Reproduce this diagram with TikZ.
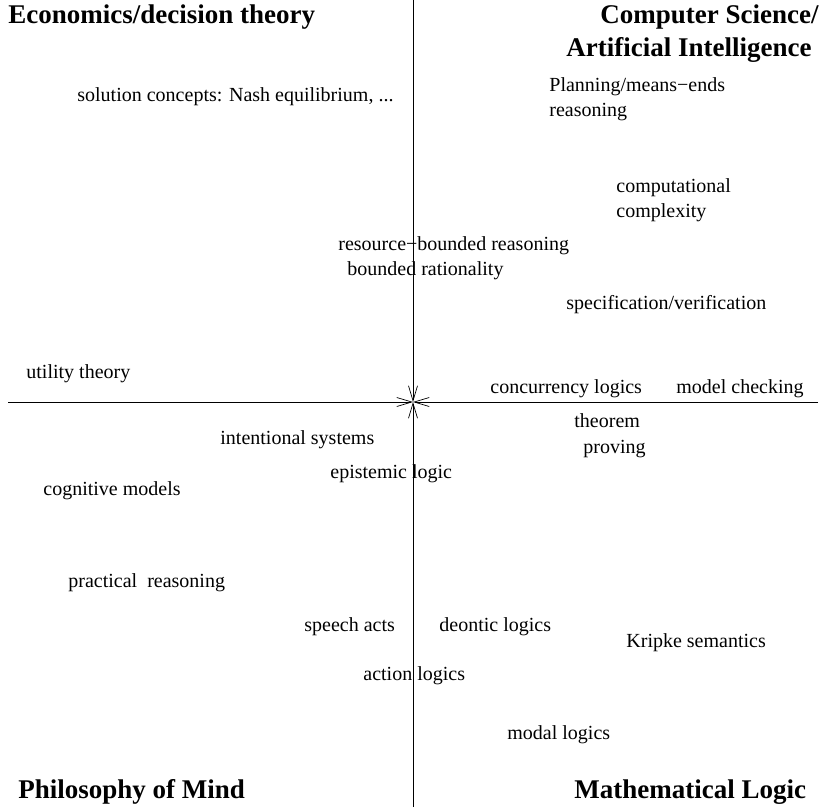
\documentclass[tikz,border=0pt]{standalone}
\usepackage{fontspec}
\setmainfont{Liberation Serif}
\usetikzlibrary{arrows.meta}

\begin{document}
\begin{tikzpicture} [x=1pt, y=-1pt, line width=0.8pt,
  >={Straight Barb[length=15pt, width=9pt, line width=0.7pt]},
  topic/.style = {anchor=base west, inner sep=0pt, font=\fontsize{20}{25}\selectfont},
  field/.style = {anchor=base west, inner sep=0pt, font=\fontsize{27}{32}\selectfont\bfseries}]
\useasboundingbox (0,0) rectangle (824,807);
\coordinate (c) at (413,402);
\coordinate (top) at (413,0);
\coordinate (bot) at (413,807);
\coordinate (lft) at (8,402);
\coordinate (rgt) at (818,402);
\draw[->] (top) -- (c);
\draw[->] (bot) -- (c);
\draw[->] (lft) -- (c);
\draw[->] (rgt) -- (c);
% the four fields
\node[field] (econ) at (8,23) {Economics/decision theory};
\node[field] (cs1) at (600,23) {Computer Science/};
\node[field] (cs2) at (566,56) {Artificial Intelligence};
\node[field] (phil) at (18,798) {Philosophy of Mind};
\node[field] (logic) at (574,798) {Mathematical Logic};
% topics
\node[topic] (nash) at (77,101) {solution concepts: Nash equilibrium, ...};
\node[topic] (plan1) at (549,91) {Planning/means−ends};
\node[topic] (plan2) at (549,116) {reasoning};
\node[topic] (comp1) at (616,192) {computational};
\node[topic] (comp2) at (616,217) {complexity};
\node[topic] (res) at (338,250) {resource−bounded reasoning};
\node[topic] (bound) at (347,275) {bounded rationality};
\node[topic] (spec) at (566,309) {specification/verification};
\node[topic] (util) at (26,378) {utility theory};
\node[topic] (conc) at (490,393) {concurrency logics};
\node[topic] (mc) at (676,393) {model checking};
\node[topic] (thm1) at (574,427) {theorem};
\node[topic] (thm2) at (583,453) {proving};
\node[topic] (intent) at (220,444) {intentional systems};
\node[topic] (epist) at (330,478) {epistemic logic};
\node[topic] (cogn) at (43,495) {cognitive models};
\node[topic] (pract) at (68,587) {practical\ \ reasoning};
\node[topic] (speech) at (304,631) {speech acts};
\node[topic] (deont) at (439,631) {deontic logics};
\node[topic] (kripke) at (626,647) {Kripke semantics};
\node[topic] (action) at (363,680) {action logics};
\node[topic] (modal) at (507,739) {modal logics};
\end{tikzpicture}
\end{document}
